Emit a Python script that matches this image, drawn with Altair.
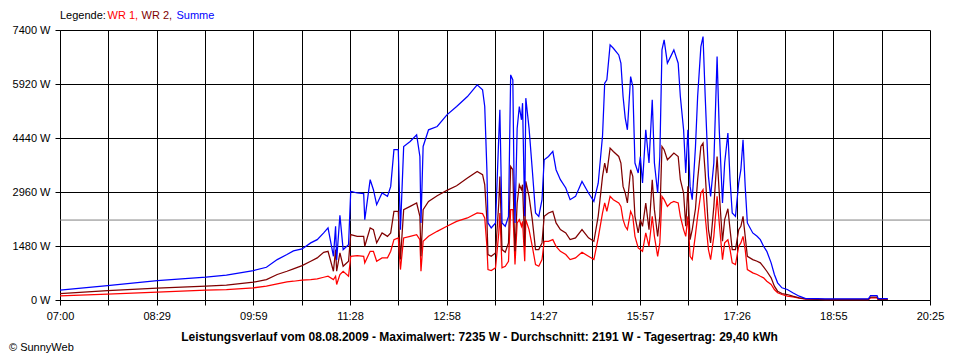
import altair as alt
import pandas as pd

# ---- data ----
times = [
    "07:00","07:44","08:30","09:15","09:34","09:59","10:11","10:21","10:30","10:36",
    "10:44","10:52","10:58","11:04","11:08","11:13","11:15","11:16","11:19","11:22",
    "11:27","11:29","11:35","11:41","11:42","11:47","11:50","11:53","11:58","12:03",
    "12:06","12:09","12:13","12:15","12:18","12:24","12:30","12:33","12:34","12:36",
    "12:41","12:49","12:58","13:07","13:17","13:26","13:31","13:33","13:35","13:36",
    "13:39","13:43","13:46","13:47","13:49","13:52","13:55","13:57","13:59","14:00",
    "14:01","14:03","14:05","14:07","14:08","14:10","14:11","14:14","14:17","14:20",
    "14:23","14:26","14:28","14:32","14:36","14:39","14:43","14:48","14:52","14:57",
    "15:03","15:09","15:14","15:18","15:22","15:24","15:26","15:29","15:32","15:37",
    "15:39","15:41","15:43","15:45","15:48","15:50","15:52","15:55","15:57","15:59",
    "16:02","16:05","16:08","16:10","16:13","16:15","16:17","16:19","16:22","16:25",
    "16:28","16:32","16:34","16:37","16:39","16:41","16:43","16:45","16:48","16:50",
    "16:53","16:55","16:57","17:00","17:02","17:05","17:08","17:10","17:13","17:15",
    "17:18","17:20","17:22","17:25","17:28","17:30","17:32","17:34","17:36","17:41",
    "17:45","17:48","17:51","17:54","17:58","18:01","18:04","18:08","18:13","18:18",
    "18:24","18:30","18:41","18:48","19:28","19:30","19:36","19:37","19:46",
]

summe = [
    268,397,533,624,680,807,898,1108,1245,1346,
    1400,1565,1655,1838,1975,1198,2020,1100,2320,1382,
    1518,2977,2933,2914,2202,3297,3023,2613,2933,2840,
    3114,4118,4118,1929,4208,4345,4528,3934,2112,4208,
    4665,4755,5075,5303,5576,5896,5759,5303,3571,2112,
    1975,2112,4482,5212,2112,2020,2293,6170,6033,3571,
    2112,4700,5303,4938,5395,2293,5532,4711,3571,2386,
    2293,2750,3844,3934,4071,3571,3297,3070,2750,2840,
    3251,2933,2703,3200,4500,5942,6033,6991,6900,6717,
    6490,5576,4985,4665,6124,5850,3754,3480,3934,3207,
    4665,3754,5486,3754,2933,3934,6854,7127,6490,6670,
    6854,6490,5576,4665,3480,4665,3114,2750,4200,5576,
    6945,7218,5576,3387,2840,3754,6670,4665,2659,3754,
    4574,3297,2386,2293,3207,3571,4391,3114,2112,1838,
    1745,1655,1472,1335,1018,698,471,334,287,197,
    104,41,41,30,30,123,123,41,41,
]

wr2 = [
    178,260,323,378,405,487,561,698,788,853,
    944,1062,1155,1308,1335,788,1382,788,1291,925,
    1062,1792,1745,1745,1472,1975,1929,1565,1838,1745,
    1838,2430,2430,1108,2476,2566,2659,2293,1198,2476,
    2703,2859,3004,3133,3343,3524,3434,3160,2202,1245,
    1198,1291,2659,3387,1382,1308,1565,3661,3571,2293,
    1335,2659,3160,3023,3160,1472,3251,2840,2202,1382,
    1382,1565,2293,2386,2430,2112,1929,1838,1655,1702,
    1929,1702,1609,2300,3387,3754,3480,4164,4071,3934,
    3754,3114,2933,2659,3571,3387,2293,1838,2202,2020,
    2659,1929,3297,2476,1745,2293,4208,4118,3844,3934,
    4027,3934,3297,2933,2020,3114,1655,1929,2500,3300,
    4208,4300,3480,1929,1565,2566,3934,2933,1609,2202,
    2500,1929,1382,1382,1929,2020,2293,1745,1198,1108,
    1062,1018,908,788,607,378,241,178,150,104,
    60,33,20,15,15,77,77,20,20,
]

wr1 = [
    115,159,214,268,287,334,378,443,498,514,
    542,561,580,624,651,561,651,424,698,788,
    651,1198,1217,1198,1018,1335,1335,1062,1155,1155,
    1335,1655,1702,834,1702,1745,1792,1655,788,1609,
    1745,1882,2020,2156,2249,2386,2367,2249,1472,834,
    807,881,1838,2386,881,925,1062,2476,2476,1745,
    971,2112,2202,2020,2156,1062,2202,1929,1472,971,
    925,1108,1609,1609,1655,1472,1335,1245,1108,1155,
    1308,1198,1108,1700,2386,2659,2430,2840,2750,2659,
    2566,2202,2020,1929,2430,2293,1745,1428,1382,1335,
    1838,1472,2293,1745,1198,1565,2840,2750,2566,2659,
    2703,2659,2293,1929,1745,2293,1198,1108,1800,2300,
    2933,3023,2293,1382,1108,1745,2840,2112,1108,1565,
    1650,1382,1018,971,1472,1565,1745,1382,834,744,
    698,651,607,514,424,287,197,150,104,88,
    49,25,15,10,10,60,60,15,15,
]

average = [2191]
y_ticks = [0, 1480, 2960, 4440, 5920, 7400]
x_labels = ["07:00", "", "08:29", "", "09:59", "", "11:28", "", "12:58", "",
            "14:27", "", "15:57", "", "17:26", "", "18:55", "", "20:25"]
series_names = ["WR 1", "WR 2", "Summe"]
series_colors = ["#ff0000", "#800000", "#0000ff"]
title_text = ("Leistungsverlauf vom 08.08.2009 - Maximalwert: 7235 W - "
              "Durchschnitt: 2191 W - Tagesertrag: 29,40 kWh")

assert len(times) == len(summe) == len(wr1) == len(wr2)

# ---- build tables ----
minutes = [int(t[:2]) * 60 + int(t[3:]) - 7 * 60 for t in times]
span = 20 * 60 + 25 - 7 * 60
step = span / (len(x_labels) - 1)
x_grid = [i * step for i in range(len(x_labels))]

frames = {}
for name, vals in zip(series_names, [wr1, wr2, summe]):
    frames[name] = pd.DataFrame({"min": minutes, "W": vals, "serie": name})

FONT = "Liberation Sans"
label_arr = "[" + ",".join("'%s'" % l for l in x_labels) + "]"

x_enc = alt.X(
    "min:Q",
    scale=alt.Scale(domain=[0, span], nice=False, zero=False),
    axis=alt.Axis(
        values=x_grid, labelExpr=label_arr + "[round(datum.value / %f)]" % step,
        grid=True, gridColor="#000000", gridOpacity=1, gridWidth=1,
        domainColor="#000000", tickColor="#000000", tickSize=5, ticks=True,
        labelFont=FONT, labelFontSize=11, labelColor="#000000", labelPadding=5,
        labelOverlap=False, labelFlush=False, title=None,
    ),
)
y_enc = alt.Y(
    "W:Q",
    scale=alt.Scale(domain=[0, 7400], nice=False),
    axis=alt.Axis(
        values=y_ticks, labelExpr="datum.value + ' W'",
        grid=True, gridColor="#000000", gridOpacity=1, gridWidth=1,
        domainColor="#000000", tickColor="#000000", tickSize=5,
        labelFont=FONT, labelFontSize=11, labelColor="#000000", labelPadding=5,
        title=None,
    ),
)

avg_rule = alt.Chart(pd.DataFrame({"W": average})).mark_rule(
    color="#808080", strokeWidth=1
).encode(y=alt.Y("W:Q"))

layers = [avg_rule]
for name, col in zip(series_names, series_colors):
    layers.append(
        alt.Chart(frames[name]).mark_line(color=col, strokeWidth=1.25).encode(
            x=x_enc, y=y_enc, order="min:Q"
        )
    )

# legend text at top
legend_parts = [("Legende:", "#000000", 0), ("WR 1,", series_colors[0], 47.5),
                ("WR 2,", series_colors[1], 81.5), ("Summe", series_colors[2], 116.5)]
for txt, col, xpos in legend_parts:
    layers.append(
        alt.Chart(pd.DataFrame({"t": [txt]})).mark_text(
            align="left", baseline="middle", font=FONT, fontSize=11, color=col
        ).encode(text="t:N", x=alt.value(xpos), y=alt.value(-14))
    )

layers.append(
    alt.Chart(pd.DataFrame({"t": [title_text]})).mark_text(
        align="center", baseline="middle", font=FONT, fontSize=12,
        fontWeight="bold", color="#000000"
    ).encode(text="t:N", x=alt.value(419.5), y=alt.value(307))
)
layers.append(
    alt.Chart(pd.DataFrame({"t": ["© SunnyWeb"]})).mark_text(
        align="left", baseline="middle", font=FONT, fontSize=11, color="#000000"
    ).encode(text="t:N", x=alt.value(-51), y=alt.value(318))
)

chart = alt.layer(*layers).properties(
    width=870, height=270,
    autosize=alt.AutoSizeParams(type="none"),
    padding={"left": 52, "top": 22, "right": 22, "bottom": 56},
    background="#ffffff",
).configure_view(stroke=None)

chart.save("out.html", embed_options={"renderer": "svg", "actions": False})
